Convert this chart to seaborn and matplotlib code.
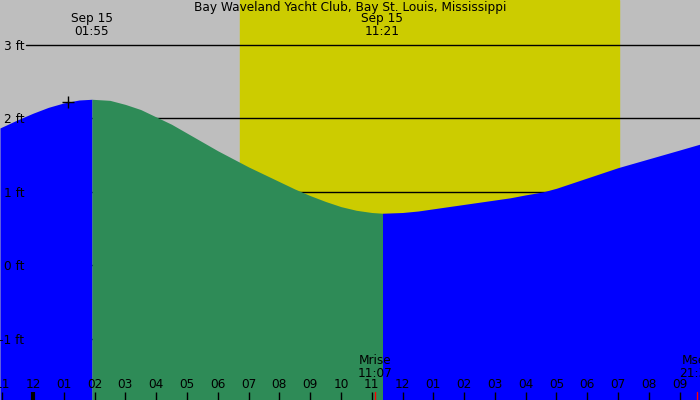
import matplotlib
matplotlib.use("Agg")
import matplotlib.pyplot as plt
import seaborn as sns
import pandas as pd

# tide height (ft) against hours since midnight, Sep 15
hours = [-1.07, -0.5, 0.0, 0.5, 1.0, 1.5, 1.917,
         2.5, 3.0, 3.5, 4.0, 4.5, 5.0, 5.5, 6.0, 6.5, 7.0, 7.5, 8.0, 8.5, 9.0, 9.5,
         10.0, 10.5, 11.0, 11.35,
         12.0, 12.5, 13.0, 13.5, 14.0, 14.5, 15.0, 15.5, 16.0, 16.56, 17.0, 17.5,
         18.0, 18.5, 19.0, 19.5, 20.0, 20.5, 21.0, 21.66]
height = [1.87, 1.98, 2.07, 2.15, 2.21, 2.25, 2.26,
          2.245, 2.19, 2.12, 2.02, 1.92, 1.80, 1.68, 1.56, 1.45, 1.34, 1.24, 1.14, 1.04, 0.95, 0.87,
          0.80, 0.75, 0.72, 0.71,
          0.72, 0.74, 0.77, 0.80, 0.83, 0.86, 0.89, 0.92, 0.96, 1.00, 1.05, 1.12,
          1.19, 1.26, 1.33, 1.39, 1.45, 1.51, 1.57, 1.65]

high_time, low_time = 1.917, 11.35
sunrise, sunset = 6.72, 19.03
moonrise, moonset = 11.12, 21.55
marker_point = (1.13, 2.22)

hour_ticks = list(range(-1, 22))
hour_labels = ["11", "12", "01", "02", "03", "04", "05", "06", "07", "08", "09", "10",
               "11", "12", "01", "02", "03", "04", "05", "06", "07", "08", "09"]
levels = [3, 2, 1, 0, -1]
level_labels = ["3 ft", "2 ft", "1 ft", "0 ft", "-1 ft"]

title = "Bay Waveland Yacht Club, Bay St. Louis, Mississippi"

df = pd.DataFrame({"hour": hours, "ft": height})

sns.set_style("white", {"text.color": "black", "xtick.color": "black",
                        "ytick.color": "black", "axes.labelcolor": "black"})
plt.rcParams["font.family"] = ["DejaVu Sans"]
FS = 8.7

fig = plt.figure(figsize=(7, 4), dpi=100)
ax = fig.add_axes([0, 0, 1, 1])
ax.set_facecolor("#bebebe")
ax.set_xlim(-1.07, 21.66)
ax.set_ylim(-1.83, 3.61)
for s in ax.spines.values():
    s.set_visible(False)

# daylight
ax.axvspan(sunrise, sunset, color="#cccc00", zorder=1)

# level lines
for lv in levels:
    ax.axhline(lv, xmin=26 / 700, xmax=1, color="black", lw=1, zorder=2)

# tide fill: green while falling, blue while rising
falling = df[(df.hour >= high_time) & (df.hour <= low_time)]
rise1 = df[df.hour <= high_time]
rise2 = df[df.hour >= low_time]
ax.fill_between(rise1.hour, -2, rise1.ft, color="#0000ff", lw=0, zorder=3)
ax.fill_between(falling.hour, -2, falling.ft, color="#2e8b57", lw=0, zorder=3)
ax.fill_between(rise2.hour, -2, rise2.ft, color="#0000ff", lw=0, zorder=3)
sns.lineplot(data=df, x="hour", y="ft", ax=ax, color="#2e8b57", lw=0, zorder=3)
ax.set_xlabel("")
ax.set_ylabel("")

ax.scatter([marker_point[0]], [marker_point[1]], marker="+", s=70, color="black", lw=1, zorder=5)

# ticks
ax.set_xticks(hour_ticks)
ax.set_xticklabels(hour_labels)
ax.tick_params(axis="x", direction="in", length=6, width=1, color="black",
               labelcolor="black", pad=-15.8, labelsize=FS, bottom=True)
ax.set_yticks(levels)
ax.set_yticklabels(level_labels)
ax.tick_params(axis="y", direction="in", length=0, pad=-17.3, labelsize=FS,
               labelcolor="black", left=True)
ax.xaxis.set_zorder(6)
ax.yaxis.set_zorder(6)

# midnight tick
ax.plot([0, 0], [0, 8 / 400], transform=ax.get_xaxis_transform(), color="black", lw=3,
        zorder=6, solid_capstyle="butt")
# moon ticks
for t in (moonrise, moonset):
    ax.plot([t, t], [0, 8 / 400], transform=ax.get_xaxis_transform(), color="red", lw=1,
            zorder=6)

xt = ax.get_xaxis_transform()
ax.text(0.5, 1 - 7 / 400, title, transform=ax.transAxes, ha="center", va="center",
        fontsize=FS, color="black", zorder=7)
ax.text(high_time, 1 - 25 / 400, "Sep 15\n01:55", transform=xt, ha="center", va="center",
        fontsize=FS, linespacing=0.95, color="black", zorder=7)
ax.text(low_time, 1 - 25 / 400, "Sep 15\n11:21", transform=xt, ha="center", va="center",
        fontsize=FS, linespacing=0.95, color="black", zorder=7)
ax.text(moonrise, 33 / 400, "Mrise\n11:07", transform=xt, ha="center", va="center",
        fontsize=FS, linespacing=0.95, color="black", zorder=7)
ax.text(moonset, 33 / 400, "Mset\n21:33", transform=xt, ha="center", va="center",
        fontsize=FS, linespacing=0.95, color="black", zorder=7)

fig.savefig("out.png", dpi=100)
